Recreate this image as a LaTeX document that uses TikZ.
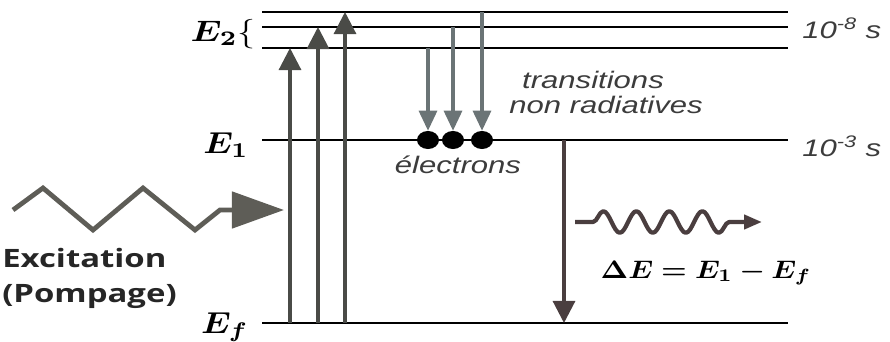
\documentclass[tikz,border=0pt]{standalone}
\usepackage{amsmath,bm}
\usepackage{graphicx}
\usepackage{fontspec}
\usepackage{xcolor}
\usepackage{tikz}
\usetikzlibrary{arrows.meta}
\usetikzlibrary{shapes.geometric}
\usetikzlibrary{decorations.pathmorphing}
\newfontfamily\lblfont{Liberation Sans}
\newfontfamily\excfont{Open Sans}
\newcommand\wide[1]{\scalebox{1.3}[1]{#1}}
\newcommand\bigE[1]{\scalebox{2.45}[2.15]{#1}}
\newcommand\bigEtwo[1]{\scalebox{2.55}[2.1]{#1}}
\newcommand\bigdE[1]{\scalebox{2.05}[1.8]{#1}}
\definecolor{pumpcol}{HTML}{4A4B47}
\definecolor{relaxcol}{HTML}{6B7476}
\definecolor{emitcol}{HTML}{4A3E3F}
\definecolor{zigcol}{HTML}{5E5D57}
\definecolor{txtcol}{HTML}{3C3C3C}
\tikzset{
  level/.style={line width=2.1pt, black},
  pump/.style={line width=2.2pt, pumpcol, -{Triangle[length=0.55cm,width=0.55cm]}},
  relax/.style={line width=2.2pt, relaxcol, -{Triangle[length=0.5cm,width=0.45cm]}},
  emit/.style={line width=2.2pt, emitcol, -{Triangle[length=0.55cm,width=0.55cm]}},
  wave/.style={line width=3pt, emitcol, line join=round,
    decorate, decoration={snake, segment length=0.825cm, amplitude=0.27cm,
      pre length=0.45cm, post length=0.7cm},
    -{Triangle[length=0.45cm,width=0.35cm]}},
  zig/.style={line width=3.4pt, zigcol, line join=miter,
    -{Triangle[length=1.3cm,width=0.9cm]}},
  dot/.style={ellipse, fill=black, inner sep=0pt, minimum width=0.55cm, minimum height=0.45cm},
  elbl/.style={inner sep=0pt},
  itlbl/.style={inner sep=0pt, text=txtcol, font=\lblfont\itshape\fontsize{17}{20}\selectfont},
  exclbl/.style={inner sep=0pt, text=black!85, font=\excfont\bfseries\fontsize{18}{20}\selectfont}
}
\begin{document}
\begin{tikzpicture}[x=0.025cm, y=-0.025cm]
\useasboundingbox (0,0) rectangle (890,342);

% niveaux d'energie
\foreach \n/\y in {e2c/12,e2b/27,e2a/48,e1/140,ef/323} {
  \coordinate (\n) at (262,\y);
  \coordinate (\n r) at (788,\y);
  \draw[level] (\n) -- (\n r);
}

% pompage
\foreach \x/\n in {290/e2a,318/e2b,345/e2c}
  \draw[pump] (\x,0 |- ef) -- (\x,0 |- \n);

% transitions non radiatives
\foreach \i/\x/\n in {1/428/e2a,2/453/e2b,3/482/e2c} {
  \node[dot] (d\i) at (\x,140) {};
  \draw[relax] (d\i |- \n) -- (d\i);
}

% emission
\coordinate (em) at (564,140);
\draw[emit] (em) -- (em |- ef);
\coordinate (w0) at (575,222);
\coordinate (w1) at (762,222);
\draw[wave] (w0) -- (w1);

% excitation
\coordinate (zt) at (284,210);
\draw[zig] (13,210) -- (43,188) -- (93,230) -- (143,188) -- (195,230) -- (220,210) -- (zt);

% textes
\node[elbl, anchor=base east] (lE2) at (256,41) {\bigEtwo{$\bm{E}_{\bm{2}}\{$}};
\node[elbl, anchor=base east] (lE1) at (249,153) {\bigE{$\bm{E}_{\bm{1}}$}};
\node[elbl, anchor=base east] (lEf) at (249,333) {\bigE{$\bm{E}_{\bm{f}}$}};
\node[itlbl, anchor=base west] (t8) at (802,38) {\wide{10\textsuperscript{-8} s}};
\node[itlbl, anchor=base west] (t3) at (802,156) {\wide{10\textsuperscript{-3} s}};
\node[itlbl, anchor=base] (tr1) at (593,88) {\wide{transitions}};
\node[itlbl, anchor=base] (tr2) at (606,113) {\wide{non radiatives}};
\node[itlbl, anchor=base] (el) at (458,173) {\wide{électrons}};
\node[exclbl, anchor=base west] (ex1) at (2,267) {\wide{Excitation}};
\node[exclbl, anchor=base west] (ex2) at (2,302) {\wide{(Pompage)}};
\node[elbl, anchor=base] (dE) at (706,278) {\bigdE{$\bm{\Delta E = E_1 - E_f}$}};
\end{tikzpicture}
\end{document}
